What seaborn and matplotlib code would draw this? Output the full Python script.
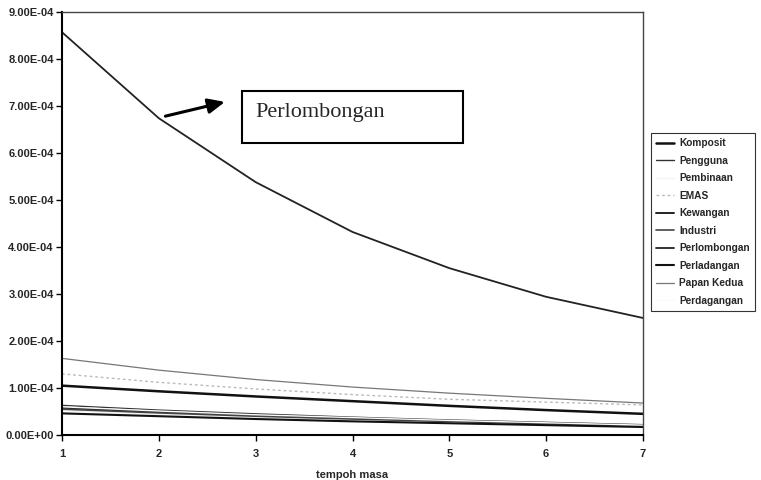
import matplotlib
matplotlib.use("Agg")
import matplotlib.pyplot as plt
import matplotlib.ticker as mticker
from matplotlib.patches import Rectangle
import seaborn as sns
import pandas as pd

periods = [1, 2, 3, 4, 5, 6, 7]
series_names = ["Komposit", "Pengguna", "Pembinaan", "EMAS", "Kewangan",
                "Industri", "Perlombongan", "Perladangan", "Papan Kedua", "Perdagangan"]
komposit = [1.05e-4, 0.93e-4, 0.82e-4, 0.72e-4, 0.62e-4, 0.53e-4, 0.45e-4]
pengguna = [0.63e-4, 0.53e-4, 0.45e-4, 0.38e-4, 0.32e-4, 0.27e-4, 0.22e-4]
pembinaan = [0.52e-4, 0.44e-4, 0.38e-4, 0.32e-4, 0.27e-4, 0.23e-4, 0.19e-4]
emas = [1.30e-4, 1.12e-4, 0.98e-4, 0.86e-4, 0.76e-4, 0.70e-4, 0.64e-4]
kewangan = [0.58e-4, 0.49e-4, 0.42e-4, 0.36e-4, 0.30e-4, 0.25e-4, 0.20e-4]
industri = [0.55e-4, 0.47e-4, 0.40e-4, 0.34e-4, 0.29e-4, 0.24e-4, 0.19e-4]
perlombongan = [8.57e-4, 6.74e-4, 5.38e-4, 4.32e-4, 3.55e-4, 2.94e-4, 2.49e-4]
perladangan = [0.46e-4, 0.40e-4, 0.34e-4, 0.29e-4, 0.25e-4, 0.21e-4, 0.17e-4]
papan_kedua = [1.63e-4, 1.38e-4, 1.18e-4, 1.02e-4, 0.89e-4, 0.78e-4, 0.68e-4]
perdagangan = [0.60e-4, 0.51e-4, 0.43e-4, 0.37e-4, 0.31e-4, 0.26e-4, 0.21e-4]
values = [komposit, pengguna, pembinaan, emas, kewangan, industri,
          perlombongan, perladangan, papan_kedua, perdagangan]
y_ticks = [0, 1e-4, 2e-4, 3e-4, 4e-4, 5e-4, 6e-4, 7e-4, 8e-4, 9e-4]

styles = {
    "Komposit": dict(color="#111111", lw=1.8, ls="-"),
    "Pengguna": dict(color="#333333", lw=1.0, ls="-"),
    "Pembinaan": dict(color="#f4f4f4", lw=1.0, ls="-"),
    "EMAS": dict(color="#bbbbbb", lw=1.0, ls=(0, (2, 2))),
    "Kewangan": dict(color="#222222", lw=1.4, ls="-"),
    "Industri": dict(color="#444444", lw=1.2, ls="-"),
    "Perlombongan": dict(color="#222222", lw=1.3, ls="-"),
    "Perladangan": dict(color="#111111", lw=1.5, ls="-"),
    "Papan Kedua": dict(color="#777777", lw=0.9, ls="-"),
    "Perdagangan": dict(color="#fafafa", lw=1.0, ls="-"),
}

rows = []
for name, vals in zip(series_names, values):
    for p, v in zip(periods, vals):
        rows.append({"period": p, "value": v, "series": name})
df = pd.DataFrame(rows)

sns.set_style("white")
plt.rcParams["font.family"] = ["Liberation Sans", "DejaVu Sans"]

fig = plt.figure(figsize=(7.61, 4.8), dpi=100)
ax = fig.add_axes([62 / 761, 45 / 480, 581 / 761, 423 / 480])

for name in series_names:
    st = styles[name]
    sns.lineplot(data=df[df.series == name], x="period", y="value", ax=ax,
                 color=st["color"], linewidth=st["lw"], linestyle=st["ls"],
                 label=name, legend=False)

ax.set_xlim(1, 7)
ax.set_ylim(0, 9e-4)
ax.set_xticks(periods)
ax.set_yticks(y_ticks)
ax.yaxis.set_major_formatter(mticker.FuncFormatter(lambda v, p: f"{v:.2E}"))
for lbl in ax.get_xticklabels() + ax.get_yticklabels():
    lbl.set_fontweight("bold")
    lbl.set_fontsize(8)
ax.tick_params(axis="y", which="major", length=4, width=1, direction="out",
               color="black", left=True, pad=2)
ax.tick_params(axis="x", which="major", length=4, width=1, direction="out",
               color="black", bottom=True, pad=6)
ax.set_xlabel("tempoh masa", fontsize=8, fontweight="bold", labelpad=8)
ax.set_ylabel("")
for side in ["left", "bottom"]:
    ax.spines[side].set_color("black")
    ax.spines[side].set_linewidth(1.5)
for side in ["top", "right"]:
    ax.spines[side].set_color("#444444")
    ax.spines[side].set_linewidth(1.0)

# annotation box and arrow
ax.add_patch(Rectangle((0.31, 0.69), 0.38, 0.123, transform=ax.transAxes,
                       fill=False, edgecolor="black", linewidth=1.5))
ax.text(0.333, 0.762, "Perlombongan", transform=ax.transAxes, fontsize=16,
        family=["Liberation Serif", "DejaVu Serif"], va="center", ha="left")
ax.annotate("", xy=(2.71, 7.1e-4), xytext=(2.04, 6.77e-4),
            arrowprops=dict(arrowstyle="-|>,head_length=1.0,head_width=0.45",
                            color="black", lw=2.2))

handles, labels = ax.get_legend_handles_labels()
leg = fig.legend(handles, labels, loc="upper left",
                 bbox_to_anchor=(651 / 761, 1 - 133 / 480), frameon=True,
                 fancybox=False, edgecolor="black",
                 prop=dict(size=7.3, weight="bold"), handlelength=1.8,
                 borderpad=0.5, borderaxespad=0.0, labelspacing=0.74,
                 handletextpad=0.5)
leg.get_frame().set_linewidth(0.8)

fig.savefig("out.png", dpi=100)
